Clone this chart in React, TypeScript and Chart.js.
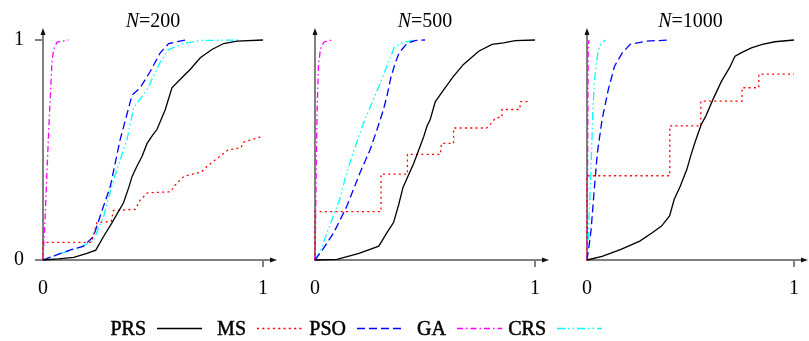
import React, { useEffect, useRef } from 'react';
import { Chart, registerables } from 'chart.js';

Chart.register(...registerables);

type Pt = [number, number];

// ---------- data ----------
const SERIES_NAMES = ['PRS', 'MS', 'PSO', 'GA', 'CRS'];
const SERIES_COLORS = ['#000000', '#ff0000', '#0000ff', '#ff00ff', '#00ffff'];
const SERIES_DASHES: number[][] = [[], [2, 3.3], [8, 4], [6, 3, 1.5, 3], [8, 3, 1.5, 3, 1.5, 3]];
const PANEL_N = [200, 500, 1000];
const X_TICKS = [0, 1];
const Y_TICKS = [0, 1];

// N = 200
const PRS_200: Pt[] = [[0, 0], [0.07, 0.005], [0.14, 0.012], [0.2, 0.03], [0.24, 0.045], [0.276, 0.108], [0.314, 0.17], [0.366, 0.26], [0.39, 0.33], [0.405, 0.38], [0.427, 0.426], [0.45, 0.47], [0.473, 0.53], [0.5, 0.57], [0.518, 0.593], [0.556, 0.684], [0.586, 0.783], [0.639, 0.836], [0.669, 0.866], [0.715, 0.919], [0.768, 0.957], [0.821, 0.984], [0.882, 0.995], [1, 1]];
const MS_200: Pt[] = [[0, 0], [0, 0.08], [0.22, 0.08], [0.245, 0.17], [0.31, 0.175], [0.32, 0.225], [0.42, 0.23], [0.44, 0.27], [0.475, 0.305], [0.58, 0.31], [0.6, 0.34], [0.64, 0.38], [0.68, 0.39], [0.72, 0.4], [0.75, 0.43], [0.79, 0.46], [0.84, 0.5], [0.9, 0.51], [0.91, 0.535], [0.99, 0.56]];
const PSO_200: Pt[] = [[0, 0], [0.08, 0.03], [0.132, 0.048], [0.185, 0.063], [0.23, 0.108], [0.26, 0.2], [0.306, 0.335], [0.351, 0.548], [0.405, 0.75], [0.442, 0.783], [0.488, 0.858], [0.533, 0.942], [0.571, 0.984], [0.647, 1]];
const GA_200: Pt[] = [[0, 0], [0.005, 0.1], [0.01, 0.2], [0.018, 0.4], [0.026, 0.59], [0.035, 0.78], [0.041, 0.9], [0.048, 0.957], [0.064, 0.99], [0.115, 1]];
const CRS_200: Pt[] = [[0, 0], [0.08, 0.03], [0.17, 0.057], [0.23, 0.09], [0.276, 0.2], [0.321, 0.366], [0.382, 0.548], [0.412, 0.692], [0.473, 0.775], [0.488, 0.805], [0.533, 0.9], [0.571, 0.957], [0.639, 0.984], [0.715, 0.998], [0.9, 1]];

// N = 500
const PRS_500: Pt[] = [[0, 0], [0.1, 0.003], [0.2, 0.03], [0.29, 0.063], [0.327, 0.124], [0.357, 0.17], [0.38, 0.25], [0.4, 0.33], [0.418, 0.37], [0.449, 0.44], [0.494, 0.56], [0.509, 0.608], [0.524, 0.64], [0.547, 0.72], [0.592, 0.783], [0.63, 0.836], [0.675, 0.889], [0.744, 0.949], [0.805, 0.98], [0.857, 0.987], [0.91, 0.997], [1, 1]];
const MS_500: Pt[] = [[0, 0], [0, 0.22], [0.3, 0.22], [0.3, 0.39], [0.42, 0.39], [0.42, 0.48], [0.57, 0.48], [0.575, 0.53], [0.63, 0.53], [0.63, 0.6], [0.78, 0.6], [0.8, 0.62], [0.82, 0.645], [0.85, 0.65], [0.85, 0.684], [0.93, 0.684], [0.935, 0.72], [0.98, 0.72]];
const PSO_500: Pt[] = [[0, 0], [0.04, 0.055], [0.085, 0.124], [0.145, 0.245], [0.206, 0.4], [0.25, 0.5], [0.282, 0.593], [0.31, 0.68], [0.327, 0.745], [0.345, 0.83], [0.365, 0.896], [0.38, 0.935], [0.395, 0.957], [0.415, 0.98], [0.433, 0.99], [0.46, 0.998], [0.5, 1]];
const GA_500: Pt[] = [[0, 0], [0.003, 0.2], [0.006, 0.45], [0.01, 0.7], [0.016, 0.89], [0.025, 0.96], [0.04, 0.99], [0.06, 0.997], [0.085, 1]];
const CRS_500: Pt[] = [[0, 0], [0.024, 0.04], [0.066, 0.154], [0.112, 0.275], [0.14, 0.381], [0.173, 0.487], [0.218, 0.616], [0.259, 0.714], [0.297, 0.805], [0.33, 0.889], [0.36, 0.966], [0.403, 0.99], [0.46, 1]];

// N = 1000
const PRS_1000: Pt[] = [[0, 0], [0.073, 0.017], [0.164, 0.048], [0.255, 0.086], [0.315, 0.124], [0.36, 0.154], [0.399, 0.2], [0.421, 0.275], [0.451, 0.336], [0.482, 0.411], [0.5, 0.47], [0.521, 0.533], [0.552, 0.616], [0.574, 0.654], [0.612, 0.737], [0.65, 0.813], [0.688, 0.873], [0.715, 0.926], [0.749, 0.944], [0.794, 0.964], [0.847, 0.98], [0.908, 0.992], [1, 1]];
const MS_1000: Pt[] = [[0, 0], [0, 0.383], [0.4, 0.383], [0.4, 0.61], [0.55, 0.61], [0.55, 0.722], [0.749, 0.722], [0.749, 0.783], [0.83, 0.783], [0.83, 0.845], [1, 0.845]];
const PSO_1000: Pt[] = [[0, 0], [0.012, 0.078], [0.02, 0.139], [0.035, 0.32], [0.05, 0.487], [0.073, 0.639], [0.103, 0.775], [0.133, 0.881], [0.171, 0.942], [0.209, 0.98], [0.285, 0.995], [0.405, 1]];
const GA_1000: Pt[] = [[0, 0], [0.002, 0.3], [0.004, 0.6], [0.005, 0.85], [0.006, 0.96], [0.008, 0.99], [0.01, 1]];
const CRS_1000: Pt[] = [[0, 0], [0.005, 0.07], [0.01, 0.2], [0.018, 0.38], [0.024, 0.55], [0.028, 0.67], [0.035, 0.8], [0.042, 0.87], [0.052, 0.94], [0.065, 0.98], [0.088, 1]];

const PANEL_DATA: Pt[][][] = [
  [PRS_200, MS_200, PSO_200, GA_200, CRS_200],
  [PRS_500, MS_500, PSO_500, GA_500, CRS_500],
  [PRS_1000, MS_1000, PSO_1000, GA_1000, CRS_1000],
];

// ---------- layout ----------
const W = 809;
const H = 341;
const PANEL_LEFT = [43, 315, 587];
const PLOT_W = 220;
const PLOT_TOP = 40;
const PLOT_BOTTOM = 260;
const Y_AXIS_W = 40;
const X_AXIS_H = 40;
const FONT_FAMILY = '"Liberation Serif", "Times New Roman", serif';
const AXIS_COLOR = '#808080';

const axesPlugin = {
  id: 'cdfAxes',
  beforeDatasetsDraw(chart: any) {
    const { ctx, chartArea } = chart;
    const { left, right, top, bottom } = chartArea;
    ctx.save();
    ctx.strokeStyle = AXIS_COLOR;
    ctx.lineWidth = 2;
    ctx.setLineDash([]);
    ctx.beginPath();
    ctx.moveTo(left, bottom);
    ctx.lineTo(left, top - 8);
    ctx.stroke();
    ctx.beginPath();
    ctx.moveTo(left - 1, bottom);
    ctx.lineTo(right + 9, bottom);
    ctx.stroke();
    ctx.fillStyle = '#111';
    ctx.beginPath();
    ctx.moveTo(left, top - 12);
    ctx.lineTo(left - 2.5, top - 5);
    ctx.lineTo(left + 2.5, top - 5);
    ctx.closePath();
    ctx.fill();
    ctx.beginPath();
    ctx.moveTo(right + 14, bottom);
    ctx.lineTo(right + 7, bottom - 2.5);
    ctx.lineTo(right + 7, bottom + 2.5);
    ctx.closePath();
    ctx.fill();
    ctx.restore();
  },
  afterDraw(chart: any, _args: any, opts: any) {
    const { ctx, chartArea } = chart;
    const { left, right } = chartArea;
    ctx.save();
    ctx.fillStyle = '#000';
    ctx.textBaseline = 'alphabetic';
    ctx.textAlign = 'left';
    // title N=...
    const italic = `italic 20px ${FONT_FAMILY}`;
    const normal = `20px ${FONT_FAMILY}`;
    const rest = '=' + opts.n;
    ctx.font = italic;
    const w1 = ctx.measureText('N').width;
    ctx.font = normal;
    const w2 = ctx.measureText(rest).width;
    const x = (left + right) / 2 - (w1 + w2) / 2;
    ctx.font = italic;
    ctx.fillText('N', x, 27);
    ctx.font = normal;
    ctx.fillText(rest, x + w1, 27);

    if (opts.legend) {
      ctx.font = normal;
      SERIES_NAMES.forEach((name, i) => {
        const lx = 157 + 100 * i;
        ctx.fillStyle = '#000';
        ctx.strokeStyle = '#000';
        ctx.lineWidth = 0.5;
        ctx.setLineDash([]);
        ctx.textAlign = 'right';
        ctx.fillText(name, lx - 11, 335);
        ctx.strokeText(name, lx - 11, 335);
        ctx.strokeStyle = SERIES_COLORS[i];
        ctx.lineWidth = 1.4;
        ctx.setLineDash(SERIES_DASHES[i]);
        ctx.beginPath();
        ctx.moveTo(lx, 328.5);
        ctx.lineTo(lx + 45, 328.5);
        ctx.stroke();
      });
    }
    ctx.restore();
  },
};

function makeConfig(panel: number): any {
  const showY = panel === 0;
  const left = PANEL_LEFT[panel];
  const tickFont = { family: FONT_FAMILY, size: 20 };
  return {
    type: 'line',
    data: {
      datasets: SERIES_NAMES.map((name, i) => ({
        label: name,
        data: PANEL_DATA[panel][i].map(([x, y]) => ({ x, y })),
        borderColor: SERIES_COLORS[i],
        borderDash: SERIES_DASHES[i],
        borderWidth: 1.3,
        pointRadius: 0,
        fill: false,
        tension: 0,
        clip: 6,
      })),
    },
    options: {
      animation: false,
      responsive: false,
      events: [],
      layout: {
        padding: {
          left: left - (showY ? Y_AXIS_W : 0),
          right: W - (left + PLOT_W),
          top: PLOT_TOP,
          bottom: H - PLOT_BOTTOM - X_AXIS_H,
        },
      },
      plugins: {
        legend: { display: false },
        tooltip: { enabled: false },
        title: { display: false },
        cdfAxes: { n: PANEL_N[panel], legend: panel === 0 },
      },
      scales: {
        x: {
          type: 'linear',
          min: 0,
          max: 1,
          position: 'bottom',
          afterFit: (s: any) => { s.height = X_AXIS_H; },
          afterBuildTicks: (s: any) => { s.ticks = X_TICKS.map((v) => ({ value: v })); },
          ticks: {
            font: tickFont,
            color: '#000',
            padding: 10,
            maxRotation: 0,
            callback: (v: number) => String(v),
          },
          grid: {
            drawOnChartArea: false,
            drawTicks: true,
            tickLength: 7,
            lineWidth: 2,
            color: (c: any) => (c.tick && c.tick.value === 1 ? AXIS_COLOR : 'rgba(0,0,0,0)'),
          },
          border: { display: false },
        },
        y: {
          type: 'linear',
          min: 0,
          max: 1,
          display: showY,
          position: 'left',
          afterFit: (s: any) => { s.width = showY ? Y_AXIS_W : 0; },
          afterBuildTicks: (s: any) => { s.ticks = Y_TICKS.map((v) => ({ value: v })); },
          ticks: {
            font: tickFont,
            color: '#000',
            padding: 11,
            callback: (v: number) => String(v),
          },
          grid: {
            drawOnChartArea: false,
            drawTicks: true,
            tickLength: 8,
            lineWidth: 2,
            color: AXIS_COLOR,
          },
          border: { display: false },
        },
      },
    },
    plugins: [axesPlugin],
  };
}

function Panel({ index }: { index: number }) {
  const ref = useRef<HTMLCanvasElement | null>(null);
  useEffect(() => {
    if (!ref.current) return;
    const chart = new Chart(ref.current, makeConfig(index));
    return () => chart.destroy();
  }, [index]);
  return (
    <canvas
      ref={ref}
      width={W}
      height={H}
      style={{ position: 'absolute', left: 0, top: 0, width: W, height: H, display: 'block' }}
    />
  );
}

export default function App() {
  return (
    <div style={{ position: 'absolute', left: 0, top: 0, width: W, height: H, background: '#fff', overflow: 'hidden' }}>
      {PANEL_N.map((_, i) => (
        <Panel key={i} index={i} />
      ))}
    </div>
  );
}
